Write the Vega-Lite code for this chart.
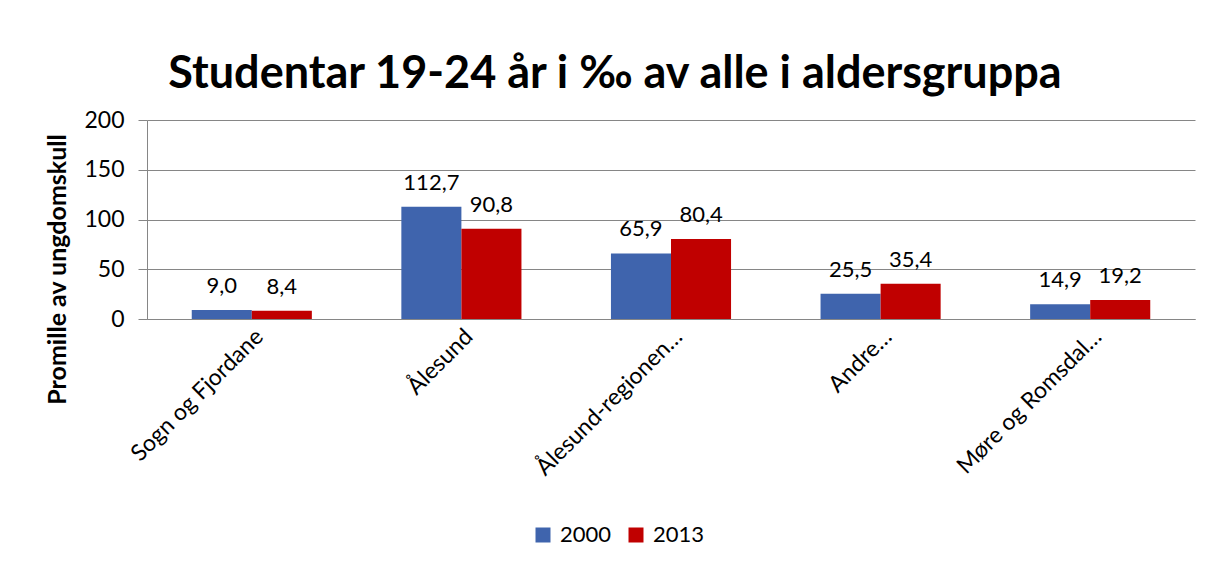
{
  "$schema": "https://vega.github.io/schema/vega-lite/v6.json",
  "width": 1048,
  "height": 199,
  "autosize": {"type": "none"},
  "padding": {"left": 147, "top": 120, "right": 16, "bottom": 253},
  "background": "white",
  "config": {
    "font": "Lato",
    "view": {"stroke": null},
    "locale": {"number": {"decimal": ",", "thousands": " ", "grouping": [3], "currency": ["", " kr"]}}
  },
  "title": {
    "text": "Studentar 19-24 år i ‰ av alle i aldersgruppa",
    "font": "Lato",
    "fontSize": 45,
    "fontWeight": "bold",
    "color": "black",
    "anchor": "middle",
    "frame": "group",
    "dx": -56,
    "offset": 12
  },
  "data": {
    "values": [
      {"cat": "Sogn og Fjordane", "year": "2000", "value": 9.0},
      {"cat": "Sogn og Fjordane", "year": "2013", "value": 8.4},
      {"cat": "Ålesund", "year": "2000", "value": 112.7},
      {"cat": "Ålesund", "year": "2013", "value": 90.8},
      {"cat": "Ålesund-regionen…", "year": "2000", "value": 65.9},
      {"cat": "Ålesund-regionen…", "year": "2013", "value": 80.4},
      {"cat": "Andre…", "year": "2000", "value": 25.5},
      {"cat": "Andre…", "year": "2013", "value": 35.4},
      {"cat": "Møre og Romsdal…", "year": "2000", "value": 14.9},
      {"cat": "Møre og Romsdal…", "year": "2013", "value": 19.2}
    ]
  },
  "encoding": {
    "x": {
      "field": "cat",
      "type": "nominal",
      "sort": null,
      "scale": {"paddingInner": 0.427, "paddingOuter": 0.2135},
      "axis": {
        "title": null,
        "labelAngle": -45,
        "labelFontSize": 23,
        "labelColor": "black",
        "labelPadding": 6,
        "labelLimit": 400,
        "domainColor": "#868686",
        "ticks": false
      }
    },
    "xOffset": {"field": "year", "type": "nominal", "sort": ["2000", "2013"]},
    "y": {
      "field": "value",
      "type": "quantitative",
      "scale": {"domain": [0, 200], "nice": false},
      "axis": {
        "values": [0, 50, 100, 150, 200],
        "title": "Promille av ungdomskull",
        "titleFontSize": 25,
        "titleFontWeight": "bold",
        "titleColor": "black",
        "titleAngle": -90,
        "titleAlign": "center",
        "titleBaseline": "middle",
        "titleX": -90,
        "titleY": 149,
        "labelFontSize": 23,
        "labelColor": "black",
        "labelPadding": 14,
        "tickSize": 9,
        "tickColor": "#868686",
        "domainColor": "#868686",
        "gridColor": "#868686",
        "grid": true
      }
    }
  },
  "layer": [
    {
      "mark": {"type": "bar"},
      "encoding": {
        "color": {
          "field": "year",
          "type": "nominal",
          "scale": {"domain": ["2000", "2013"], "range": ["#3F64AD", "#C00000"]},
          "legend": {
            "title": null,
            "orient": "none",
            "legendX": 385,
            "legendY": 404,
            "direction": "horizontal",
            "symbolType": "square",
            "symbolSize": 225,
            "symbolStrokeWidth": 0,
            "labelFontSize": 22,
            "labelColor": "black",
            "columnPadding": 13,
            "labelOffset": 6
          }
        }
      }
    },
    {
      "mark": {"type": "text", "baseline": "bottom", "dy": -12, "fontSize": 22, "color": "black"},
      "encoding": {
        "text": {"field": "value", "type": "quantitative", "format": ".1f"}
      }
    }
  ]
}
